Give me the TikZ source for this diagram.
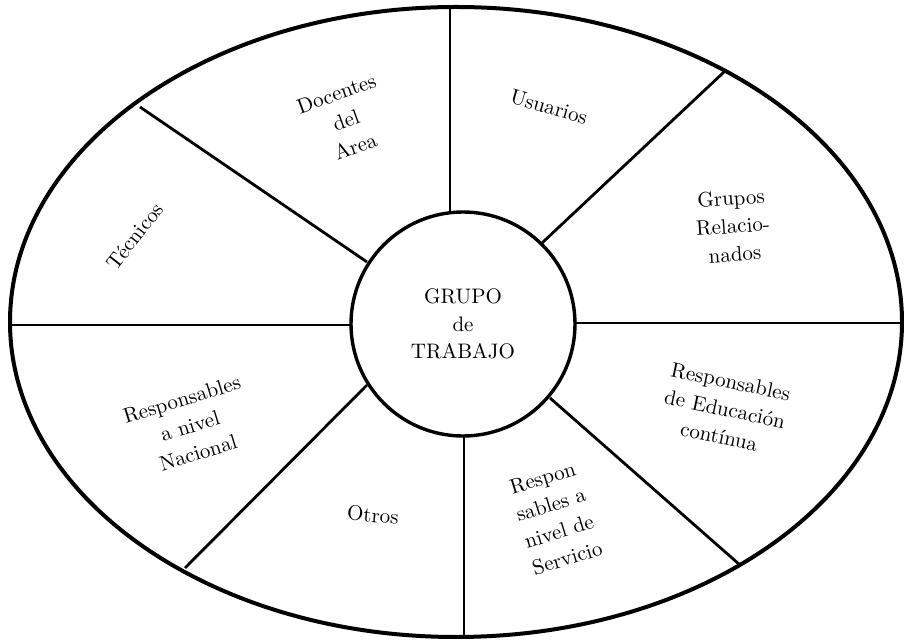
\documentclass[tikz,border=0pt]{standalone}
\begin{document}
\begin{tikzpicture}[x=0.5pt,y=-0.5pt,
  rim/.style={line width=2pt},
  divider/.style={line width=1.4pt},
  hub/.style={circle, draw, line width=1.7pt, fill=white, minimum size=112pt, inner sep=0pt,
    align=center, font=\fontsize{10.5}{13.8}\selectfont},
  lab/.style={align=center, inner sep=0pt, font=\fontsize{10.5}{14}\selectfont}]
\useasboundingbox (0,0) rectangle (904,640);
% points on the outer ellipse
\coordinate (e1) at (450,7);
\coordinate (e2) at (724,72);
\coordinate (e3) at (902,323);
\coordinate (e4) at (740,565);
\coordinate (e5) at (464,637);
\coordinate (e6) at (185,568);
\coordinate (e7) at (10,325);
\coordinate (e8) at (140,107);
% points on the inner circle
\coordinate (c1) at (450,215);
\coordinate (c2) at (542,243);
\coordinate (c3) at (573,323);
\coordinate (c4) at (550,398);
\coordinate (c5) at (464,434);
\coordinate (c6) at (367,385);
\coordinate (c7) at (353,325);
\coordinate (c8) at (367,262);
\foreach \i in {1,...,8} \draw[divider] (e\i) -- (c\i);
\draw[rim] (456,322) ellipse [x radius=446, y radius=315];
\node[hub] (g) at (463,324) {GRUPO\\de\\TRABAJO};
\node[lab, rotate=20] (docentes) at (346,120) {Docentes\\del\\Area};
\node[lab, rotate=52] (tecnicos) at (135,236) {Técnicos};
\node[lab, rotate=-16] (usuarios) at (549,107) {Usuarios};
\node[lab, rotate=4] (grupos) at (733,226) {Grupos\\Relacio-\\nados};
\node[lab, rotate=-12] (educacion) at (725,409) {Responsables\\de Educación\\contínua};
\node[lab, rotate=17] (servicio) at (555,518) {Respon\\sables a\\nivel de\\Servicio};
\node[lab, rotate=17] (nacional) at (190,426) {Responsables\\a nivel\\Nacional};
\node[lab, rotate=-5] (otros) at (373,515) {Otros};
\end{tikzpicture}
\end{document}
